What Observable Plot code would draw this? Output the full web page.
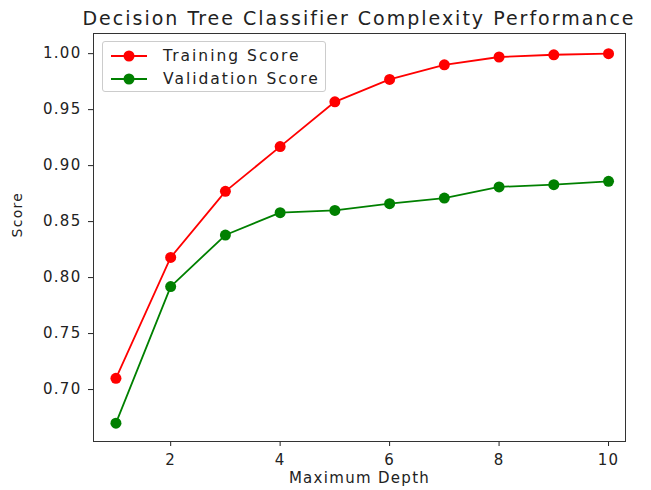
<!DOCTYPE html>
<html>
<head>
<meta charset="utf-8">
<script src="https://cdn.jsdelivr.net/npm/d3@7"></script>
<script src="https://cdn.jsdelivr.net/npm/@observablehq/plot@0.6"></script>
<style>
  body { margin: 0; background: #fff; font-family: "DejaVu Sans", sans-serif; }
  #wrap { position: relative; width: 651px; height: 490px; }
  #title { position: absolute; left: 0; top: 7px; width: 718px; text-align: center; font-size: 19px; letter-spacing: 2px; color: #222; }
  #chart { position: absolute; left: 0; top: 0; }
  #legend { position: absolute; left: 102px; top: 41px; width: 224px; height: 51px; border: 1px solid #ccc; border-radius: 3px; background: rgba(255,255,255,0.85); font-size: 15.5px; letter-spacing: 2px; color: #222; box-sizing: border-box; }
  .row { display: flex; align-items: center; height: 23px; padding-left: 6px; }
  .row:first-child { margin-top: 2px; }
  .row span { margin-left: 14px; }
</style>
</head>
<body>
<div id="wrap">
  <div id="chart"></div>
  <div id="title">Decision Tree Classifier Complexity Performance</div>
  <div id="legend"></div>
</div>
<script>
const depths = [1, 2, 3, 4, 5, 6, 7, 8, 9, 10];
const trainingScore = [0.710, 0.818, 0.877, 0.917, 0.957, 0.977, 0.990, 0.997, 0.999, 1.000];
const validationScore = [0.670, 0.792, 0.838, 0.858, 0.860, 0.866, 0.871, 0.881, 0.883, 0.886];
const seriesNames = ["Training Score", "Validation Score"];
const seriesColors = ["#ff0000", "#008000"];
const xTicks = [2, 4, 6, 8, 10];
const yTicks = [0.70, 0.75, 0.80, 0.85, 0.90, 0.95, 1.00];

const data = [];
depths.forEach((d, i) => {
  data.push({depth: d, score: trainingScore[i], series: seriesNames[0]});
  data.push({depth: d, score: validationScore[i], series: seriesNames[1]});
});

const plot = Plot.plot({
  width: 651,
  height: 490,
  marginTop: 33,
  marginLeft: 93,
  marginRight: 26,
  marginBottom: 49,
  style: { fontFamily: "DejaVu Sans, sans-serif", fontSize: "15px", color: "#222", background: "#fff", letterSpacing: "1.3px" },
  x: { domain: [0.59, 10.31], label: null },
  y: { domain: [0.6536, 1.018], label: null },
  color: { domain: seriesNames, range: seriesColors },
  marks: [
    Plot.axisX({ticks: xTicks, tickSize: 5, tickPadding: 8, fontSize: 15, label: null}),
    Plot.axisY({ticks: yTicks, tickSize: 5, tickPadding: 7, fontSize: 15, tickFormat: d => d.toFixed(2), label: null}),
    Plot.line(data, {x: "depth", y: "score", stroke: "series", strokeWidth: 1.8}),
    Plot.dot(data, {x: "depth", y: "score", fill: "series", r: 5.5}),
    Plot.frame({stroke: "#333", strokeWidth: 1}),
    Plot.text(["Maximum Depth"], {frameAnchor: "bottom", dy: 41, fontSize: 15, letterSpacing: "2px", fill: "#222"}),
    Plot.text(["Score"], {frameAnchor: "left", dx: -76, rotate: -90, fontSize: 14, fill: "#222"})
  ]
});
document.getElementById("chart").appendChild(plot);

const legend = document.getElementById("legend");
seriesNames.forEach((name, i) => {
  const row = document.createElement("div");
  row.className = "row";
  row.innerHTML = `<svg width="40" height="14"><line x1="2" y1="7" x2="38" y2="7" stroke="${seriesColors[i]}" stroke-width="2"/><circle cx="20" cy="7" r="5.5" fill="${seriesColors[i]}"/></svg><span>${name}</span>`;
  legend.appendChild(row);
});
</script>
</body>
</html>
